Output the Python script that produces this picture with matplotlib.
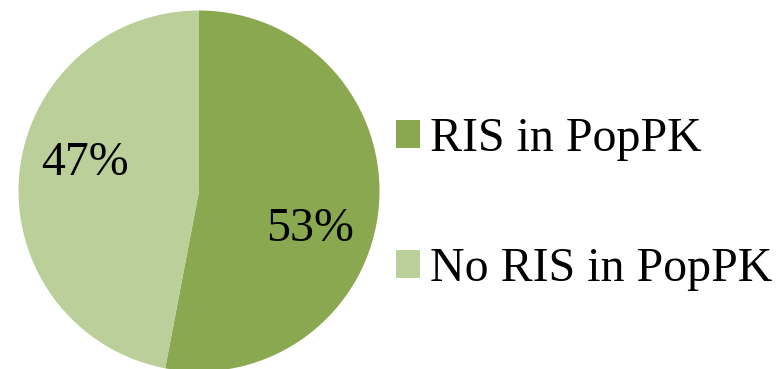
import matplotlib.pyplot as plt

labels = ['RIS in PopPK', 'No RIS in PopPK']
shares = [53, 47]
colors = ['#8aa850', '#bacf99']

plt.rcParams['font.family'] = ['Liberation Serif', 'DejaVu Serif']

fig = plt.figure(figsize=(7.79, 3.69), dpi=100)
ax = fig.add_axes([0, 0, 1, 1])

# pie in pixel-like data units
cx, cy, r = 199, 178, 180.5
wedges, _, pcts = ax.pie(shares, colors=colors, startangle=90, counterclock=False,
                         center=(cx, cy), radius=r, autopct='%.0f%%',
                         textprops={'fontsize': 34.5, 'color': 'black'})

# percent labels sit a bit lower than the wedge middle
pcts[0].set_position((cx + 111, cy - 38))
pcts[1].set_position((cx - 114, cy + 28))

ax.set_xlim(0, 779)
ax.set_ylim(0, 369)
ax.axis('off')

ax.legend(wedges, labels, loc='center left', bbox_to_anchor=(396, 165),
          bbox_transform=ax.transData, frameon=False, fontsize=34.5,
          handlelength=0.5, handleheight=0.5, handletextpad=0.2,
          labelspacing=1.8, borderpad=0, borderaxespad=0)

fig.savefig('out.png', dpi=100)
